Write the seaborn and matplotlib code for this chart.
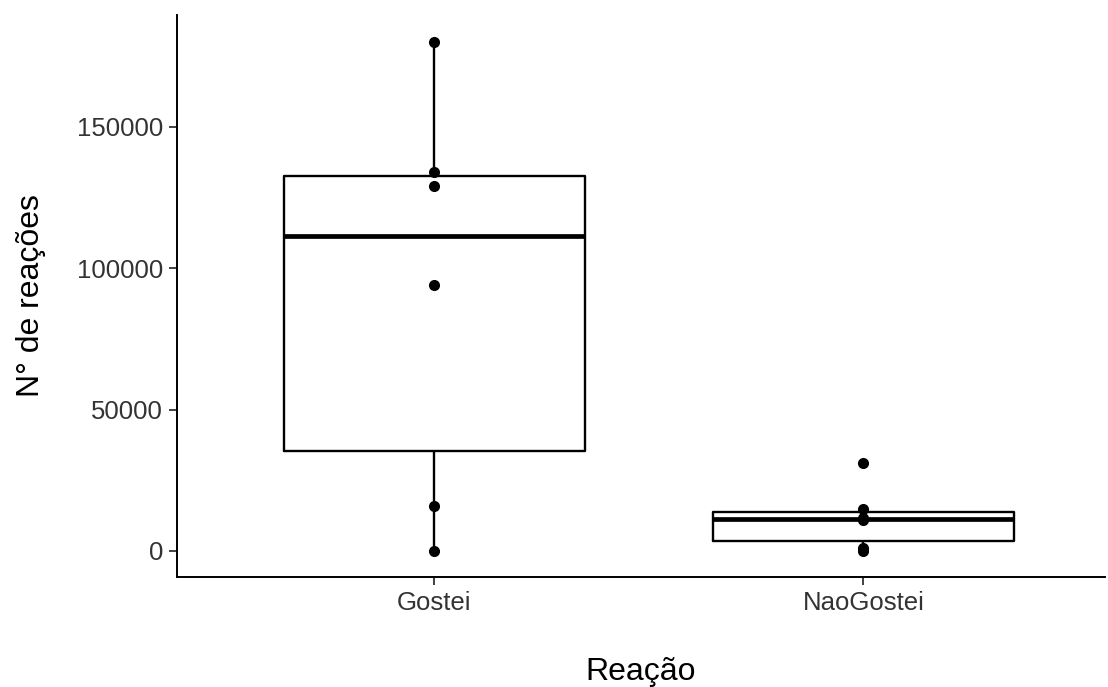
import matplotlib
matplotlib.use("Agg")
import matplotlib.pyplot as plt
import seaborn as sns
import pandas as pd

# Data
categories = ["Gostei", "NaoGostei"]
gostei = [0, 16000, 94000, 129000, 134000, 180000]
nao_gostei = [0, 1000, 11000, 11500, 14700, 31000]
y_ticks = [0, 50000, 100000, 150000]

df = pd.DataFrame({
    "Reação": [categories[0]] * len(gostei) + [categories[1]] * len(nao_gostei),
    "N": gostei + nao_gostei,
})

sns.set_theme(style="ticks")
plt.rcParams["font.family"] = ["Liberation Sans", "DejaVu Sans"]

fig = plt.figure(figsize=(11.08, 6.87), dpi=100)
ax = fig.add_axes([177 / 1108, 1 - 577 / 687, (1105 - 177) / 1108, (577 - 15) / 687])

line_kw = dict(color="black", linewidth=1.7)
sns.boxplot(data=df, x="Reação", y="N", order=categories, ax=ax, width=0.7,
            fill=False, color="black", showcaps=False, showfliers=False,
            linewidth=1.7,
            boxprops=dict(color="black", linewidth=1.7),
            whiskerprops=line_kw,
            medianprops=dict(color="black", linewidth=3.4))
sns.stripplot(data=df, x="Reação", y="N", order=categories, ax=ax,
              jitter=False, color="black", size=8, zorder=5)

ax.set_xlim(-0.6, 1.563)
ax.set_ylim(-9200, 189500)
ax.set_yticks(y_ticks)
ax.set_yticklabels([str(v) for v in y_ticks])

for side in ["top", "right"]:
    ax.spines[side].set_visible(False)
for side in ["left", "bottom"]:
    ax.spines[side].set_linewidth(1.4)
    ax.spines[side].set_color("black")

ax.tick_params(axis="both", which="major", labelsize=18.5, labelcolor="#333333",
               color="#333333", length=6, width=1.3, pad=4)

ax.set_xlabel("Reação", fontsize=23, color="black", labelpad=30)
ax.set_ylabel("N° de reações", fontsize=23, color="black", labelpad=22)

fig.savefig("out.png", dpi=100)
